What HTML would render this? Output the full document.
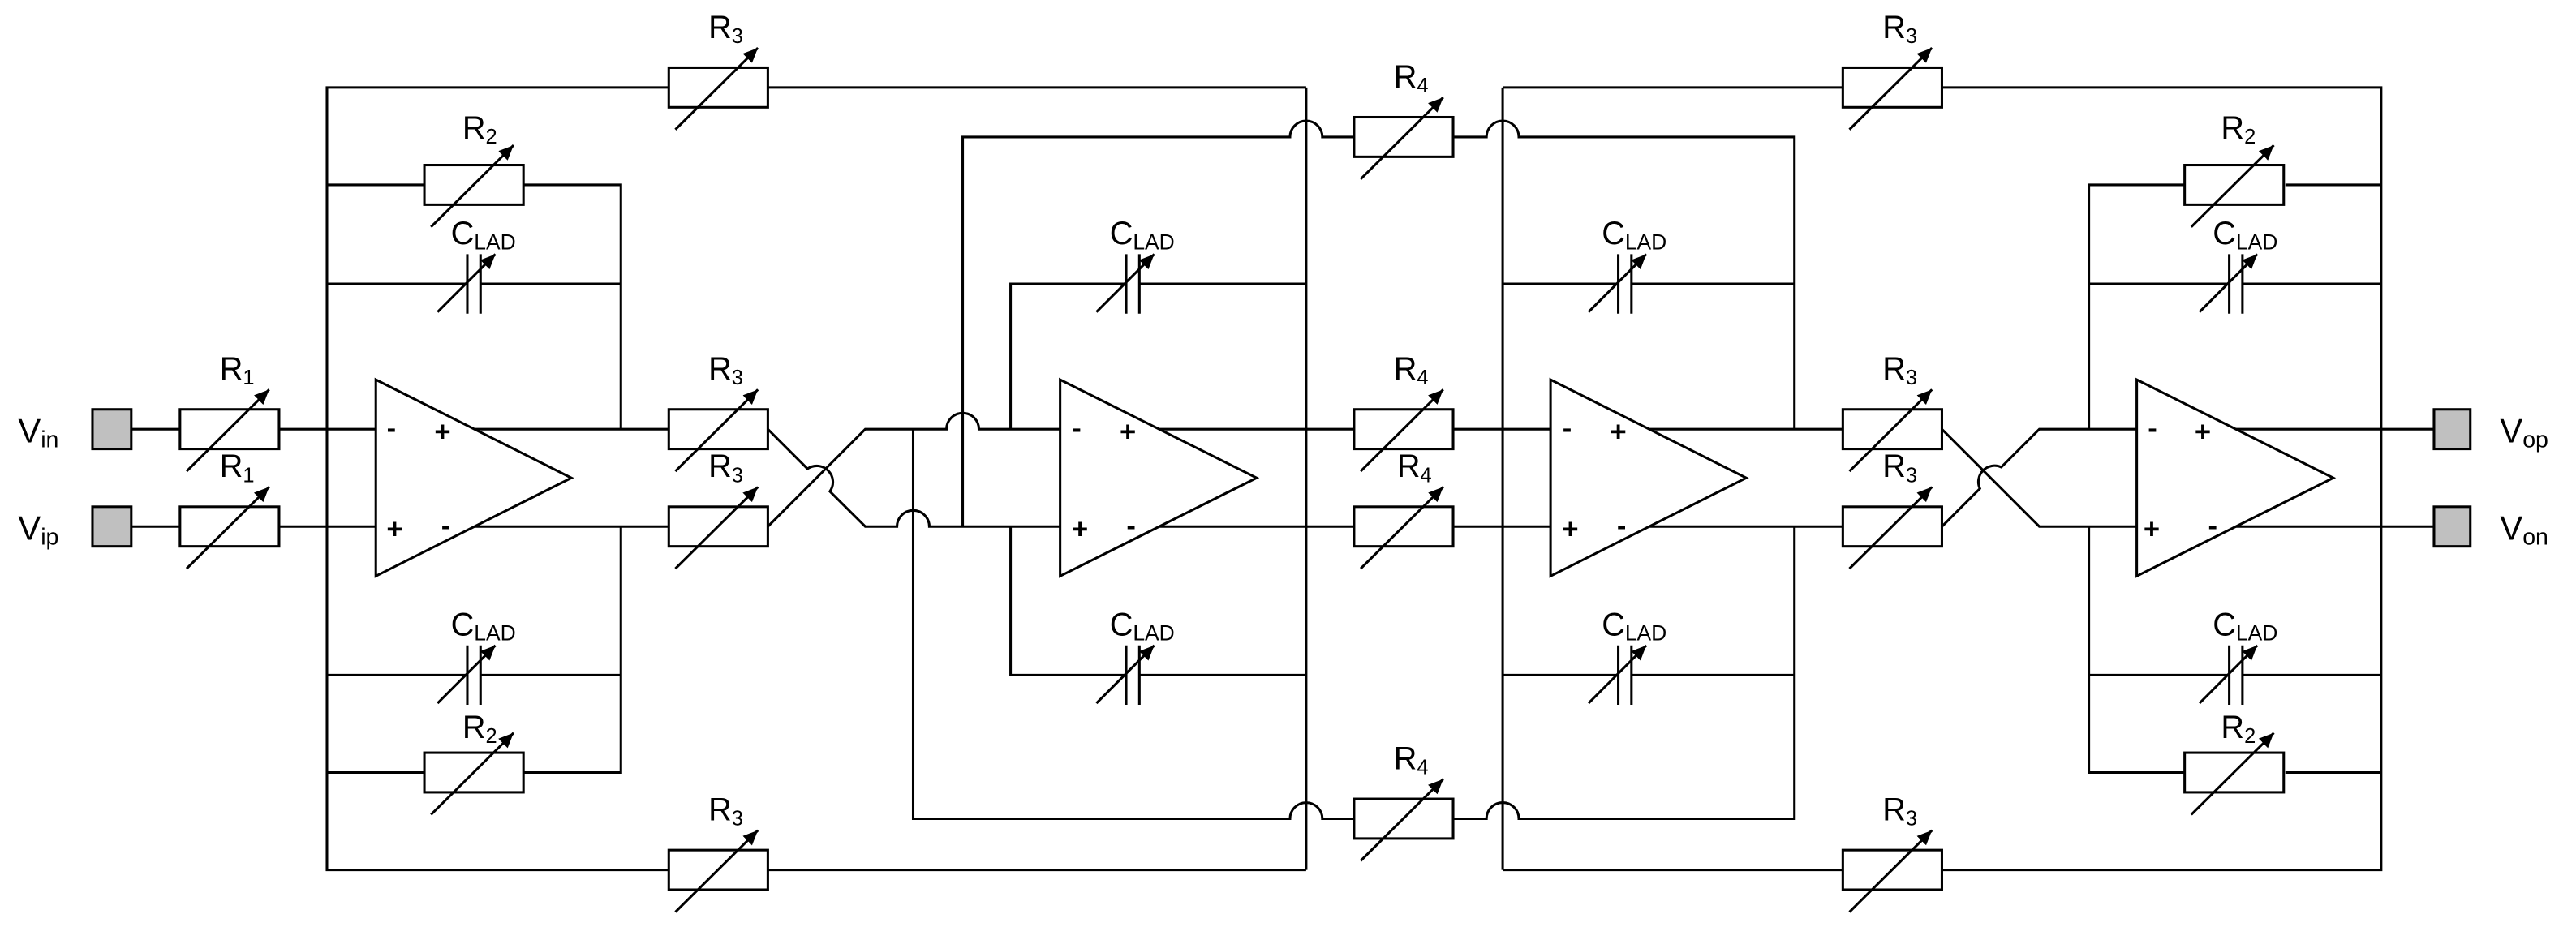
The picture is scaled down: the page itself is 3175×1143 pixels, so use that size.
<!DOCTYPE html>
<html><head><meta charset="utf-8"><style>
html,body{margin:0;padding:0;background:#fff;}
svg{display:block;}
text{font-family:"Liberation Sans",Arial,sans-serif;fill:#000;}
</style></head><body>
<svg width="3175" height="1143" viewBox="0 0 1560 561.6" preserveAspectRatio="none" xmlns="http://www.w3.org/2000/svg">
<defs>
<marker id="ah" markerUnits="userSpaceOnUse" markerWidth="12" markerHeight="12" refX="9" refY="4" orient="auto">
<path d="M0,0 L9,4 L0,8 z" fill="#000"/>
</marker>
<g id="res">
<rect x="0" y="-12" width="60" height="24" fill="#fff" stroke="#000" stroke-width="1.5"/>
<line x1="4" y1="25.5" x2="54" y2="-24" stroke="#000" stroke-width="1.5" marker-end="url(#ah)"/>
</g>
<g id="cap">
<rect x="-4" y="-2" width="8" height="4" fill="#fff"/>
<line x1="-4" y1="-18" x2="-4" y2="18" stroke="#000" stroke-width="1.5"/>
<line x1="4" y1="-18" x2="4" y2="18" stroke="#000" stroke-width="1.5"/>
<line x1="-22" y1="17" x2="13" y2="-18" stroke="#000" stroke-width="1.5" marker-end="url(#ah)"/>
</g>
</defs>

<g fill="none" stroke="#000" stroke-width="1.5" stroke-linejoin="miter">
<path d="M80 260 H109 M168.5 260 H227.6 M287.3 260 H405"/>
<path d="M80 319 H109 M168.5 319 H227.6 M287.3 319 H405"/>
<path d="M405 53 H198 V527 H405 M465 53 H791 M465 527 H791"/>
<path d="M198 112 H257 M317 112 H376 V260 M198 172 H376"/>
<path d="M198 409 H376 M198 468 H257 M317 468 H376 V319"/>
<path d="M465 260 L489 284 A9.8 9.8 0 0 1 502.6 297.7 L524 319 H543.2 A9.8 9.8 0 0 1 562.8 319 H642"/>
<path d="M465 319 L524 260 H573.2 A9.8 9.8 0 0 1 592.8 260 H642"/>
<path d="M553 260 V496 H781.2 A9.8 9.8 0 0 1 800.8 496 H820 M880 496 H900.2 A9.8 9.8 0 0 1 919.8 496 H1086.7 V319"/>
<path d="M583 319 V83 H781.2 A9.8 9.8 0 0 1 800.8 83 H820 M880 83 H900.2 A9.8 9.8 0 0 1 919.8 83 H1086.7 V260"/>
<path d="M612 260 V172 H791 M612 319 V409 H791"/>
<path d="M702 260 H820 M880 260 H939 M702 319 H820 M880 319 H939"/>
<path d="M791 53 V527"/>
<path d="M910 53 V527 M910 53 H1116 M1176 53 H1442 V527 H1176 M1116 527 H910"/>
<path d="M910 172 H1086.7 M910 409 H1086.7"/>
<path d="M998.7 260 H1116 M998.7 319 H1116"/>
<path d="M1176 260 L1235 319 H1294"/>
<path d="M1176 319 L1199 296 A9.8 9.8 0 0 1 1212 283 L1235 260 H1294"/>
<path d="M1265 260 V112 H1323 M1384 112 H1442 M1265 172 H1442"/>
<path d="M1265 319 V468 H1323 M1384 468 H1442 M1265 409 H1442"/>
<path d="M1353.7 260 H1474 M1353.7 319 H1474"/>
</g>

<g fill="#fff" stroke="#000" stroke-width="1.5">
<path d="M227.6 230 L346 289.5 L227.6 349 Z"/>
<path d="M642 230 L761 289.5 L642 349 Z"/>
<path d="M939 230 L1057.5 289.5 L939 349 Z"/>
<path d="M1294 230 L1413 289.5 L1294 349 Z"/>
<rect x="56" y="248" width="23.5" height="24" fill="#c0c0c0"/>
<rect x="56" y="307" width="23.5" height="24" fill="#c0c0c0"/>
<rect x="1474" y="248" width="22" height="24" fill="#c0c0c0"/>
<rect x="1474" y="307" width="22" height="24" fill="#c0c0c0"/>
</g>

<use href="#res" x="109" y="260"/><use href="#res" x="109" y="319"/>
<use href="#res" x="405" y="53"/><use href="#res" x="405" y="260"/><use href="#res" x="405" y="319"/><use href="#res" x="405" y="527"/>
<use href="#res" x="257" y="112"/><use href="#res" x="257" y="468"/>
<use href="#res" x="820" y="83"/><use href="#res" x="820" y="260"/><use href="#res" x="820" y="319"/><use href="#res" x="820" y="496"/>
<use href="#res" x="1116" y="53"/><use href="#res" x="1116" y="260"/><use href="#res" x="1116" y="319"/><use href="#res" x="1116" y="527"/>
<use href="#res" x="1323" y="112"/><use href="#res" x="1323" y="468"/>
<use href="#cap" x="287" y="172"/><use href="#cap" x="287" y="409"/>
<use href="#cap" x="686" y="172"/><use href="#cap" x="686" y="409"/>
<use href="#cap" x="984" y="172"/><use href="#cap" x="984" y="409"/>
<use href="#cap" x="1354" y="172"/><use href="#cap" x="1354" y="409"/>

<g font-size="19.5">
<text x="133" y="230">R<tspan font-size="12.5" dy="3">1</tspan></text>
<text x="133" y="289">R<tspan font-size="12.5" dy="3">1</tspan></text>
<text x="429" y="23">R<tspan font-size="12.5" dy="3">3</tspan></text>
<text x="429" y="230">R<tspan font-size="12.5" dy="3">3</tspan></text>
<text x="429" y="289">R<tspan font-size="12.5" dy="3">3</tspan></text>
<text x="429" y="497">R<tspan font-size="12.5" dy="3">3</tspan></text>
<text x="280" y="84">R<tspan font-size="12.5" dy="3">2</tspan></text>
<text x="280" y="447">R<tspan font-size="12.5" dy="3">2</tspan></text>
<text x="844" y="53">R<tspan font-size="12.5" dy="3">4</tspan></text>
<text x="844" y="230">R<tspan font-size="12.5" dy="3">4</tspan></text>
<text x="846" y="289">R<tspan font-size="12.5" dy="3">4</tspan></text>
<text x="844" y="466">R<tspan font-size="12.5" dy="3">4</tspan></text>
<text x="1140" y="23">R<tspan font-size="12.5" dy="3">3</tspan></text>
<text x="1140" y="230">R<tspan font-size="12.5" dy="3">3</tspan></text>
<text x="1140" y="289">R<tspan font-size="12.5" dy="3">3</tspan></text>
<text x="1140" y="497">R<tspan font-size="12.5" dy="3">3</tspan></text>
<text x="1345" y="84">R<tspan font-size="12.5" dy="3">2</tspan></text>
<text x="1345" y="447">R<tspan font-size="12.5" dy="3">2</tspan></text>
</g>
<g font-size="19.5">
<text x="273" y="148">C<tspan font-size="13" dy="3">LAD</tspan></text>
<text x="273" y="385">C<tspan font-size="13" dy="3">LAD</tspan></text>
<text x="672" y="148">C<tspan font-size="13" dy="3">LAD</tspan></text>
<text x="672" y="385">C<tspan font-size="13" dy="3">LAD</tspan></text>
<text x="970" y="148">C<tspan font-size="13" dy="3">LAD</tspan></text>
<text x="970" y="385">C<tspan font-size="13" dy="3">LAD</tspan></text>
<text x="1340" y="148">C<tspan font-size="13" dy="3">LAD</tspan></text>
<text x="1340" y="385">C<tspan font-size="13" dy="3">LAD</tspan></text>
</g>
<g font-size="20.5">
<text x="11" y="268">V<tspan font-size="14" dy="3">in</tspan></text>
<text x="11" y="327">V<tspan font-size="14" dy="3">ip</tspan></text>
<text x="1514" y="268">V<tspan font-size="14" dy="3">op</tspan></text>
<text x="1514" y="327">V<tspan font-size="14" dy="3">on</tspan></text>
</g>
<g font-size="17" font-weight="bold" text-anchor="middle">
<text x="237" y="265">-</text><text x="268" y="267">+</text><text x="239" y="326">+</text><text x="270" y="324">-</text>
<text x="652" y="265">-</text><text x="683" y="267">+</text><text x="654" y="326">+</text><text x="685" y="324">-</text>
<text x="949" y="265">-</text><text x="980" y="267">+</text><text x="951" y="326">+</text><text x="982" y="324">-</text>
<text x="1303.5" y="265">-</text><text x="1334" y="267">+</text><text x="1303" y="326">+</text><text x="1340" y="324">-</text>
</g>
</svg>
</body></html>
